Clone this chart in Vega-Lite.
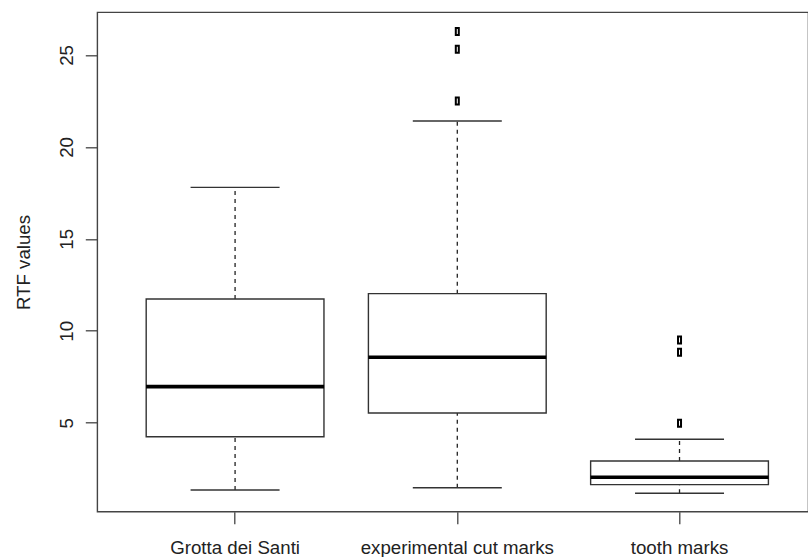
{
  "$schema": "https://vega.github.io/schema/vega-lite/v6.json",
  "autosize": "none",
  "width": 711,
  "height": 499.4,
  "padding": {"left": 97.3, "top": 12.3, "right": 0, "bottom": 45.3},
  "background": "white",
  "config": {
    "view": {"stroke": "#444", "strokeWidth": 1.4},
    "font": "Liberation Sans",
    "axis": {
      "labelFont": "Liberation Sans",
      "titleFont": "Liberation Sans",
      "labelFontSize": 18.7,
      "titleFontSize": 18.7,
      "labelColor": "#222",
      "titleColor": "#222",
      "titleFontWeight": "normal",
      "labelLimit": 0,
      "domain": false,
      "grid": false,
      "tickColor": "#444",
      "tickWidth": 1.3,
      "tickSize": 12
    }
  },
  "datasets": {
    "stats": [
      {"group": "Grotta dei Santi", "lower": 1.34, "q1": 4.24, "median": 6.96, "q3": 11.73, "upper": 17.8},
      {"group": "experimental cut marks", "lower": 1.46, "q1": 5.53, "median": 8.56, "q3": 12.02, "upper": 21.41},
      {"group": "tooth marks", "lower": 1.16, "q1": 1.63, "median": 2.03, "q3": 2.92, "upper": 4.1}
    ],
    "outliers": [
      {"group": "experimental cut marks", "value": 26.27},
      {"group": "experimental cut marks", "value": 25.31},
      {"group": "experimental cut marks", "value": 22.5},
      {"group": "tooth marks", "value": 9.5},
      {"group": "tooth marks", "value": 8.83},
      {"group": "tooth marks", "value": 4.97}
    ]
  },
  "encoding": {
    "x": {
      "field": "group",
      "type": "nominal",
      "sort": ["Grotta dei Santi", "experimental cut marks", "tooth marks"],
      "scale": {"range": [0, 720], "paddingInner": 0, "paddingOuter": 0.12},
      "axis": {"title": null, "labelAngle": 0, "labelPadding": 15, "labelBaseline": "top", "labelLimit": 0}
    }
  },
  "layer": [
    {
      "data": {"name": "stats"},
      "mark": {"type": "rule", "strokeDash": [4, 4], "color": "#222", "strokeWidth": 1.3},
      "encoding": {
        "y": {"field": "q3", "type": "quantitative", "scale": {"domain": [0.16, 27.32], "nice": false, "zero": false},
          "axis": {"title": "RTF values", "values": [5, 10, 15, 20, 25], "labelAngle": -90, "labelAlign": "center", "labelBaseline": "bottom", "labelPadding": 9, "titlePadding": 24}},
        "y2": {"field": "upper"}
      }
    },
    {
      "data": {"name": "stats"},
      "mark": {"type": "rule", "strokeDash": [4, 4], "color": "#222", "strokeWidth": 1.3},
      "encoding": {
        "y": {"field": "lower", "type": "quantitative"},
        "y2": {"field": "q1"}
      }
    },
    {
      "data": {"name": "stats"},
      "mark": {"type": "tick", "color": "#333", "size": 89, "thickness": 1.4, "opacity": 1},
      "encoding": {"y": {"field": "upper", "type": "quantitative"}}
    },
    {
      "data": {"name": "stats"},
      "mark": {"type": "tick", "color": "#333", "size": 89, "thickness": 1.4, "opacity": 1},
      "encoding": {"y": {"field": "lower", "type": "quantitative"}}
    },
    {
      "data": {"name": "stats"},
      "mark": {"type": "bar", "fill": "white", "stroke": "#333", "strokeWidth": 1.4, "width": {"band": 0.8}},
      "encoding": {
        "y": {"field": "q1", "type": "quantitative"},
        "y2": {"field": "q3"}
      }
    },
    {
      "data": {"name": "stats"},
      "mark": {"type": "tick", "color": "#000", "size": 178, "thickness": 3.6, "opacity": 1},
      "encoding": {"y": {"field": "median", "type": "quantitative"}}
    },
    {
      "data": {"name": "outliers"},
      "mark": {"type": "point", "shape": "M-0.43,-1L0.43,-1L0.43,1L-0.43,1Z", "size": 49, "filled": false, "stroke": "#000", "strokeWidth": 2, "opacity": 1},
      "encoding": {"y": {"field": "value", "type": "quantitative"}}
    }
  ]
}
